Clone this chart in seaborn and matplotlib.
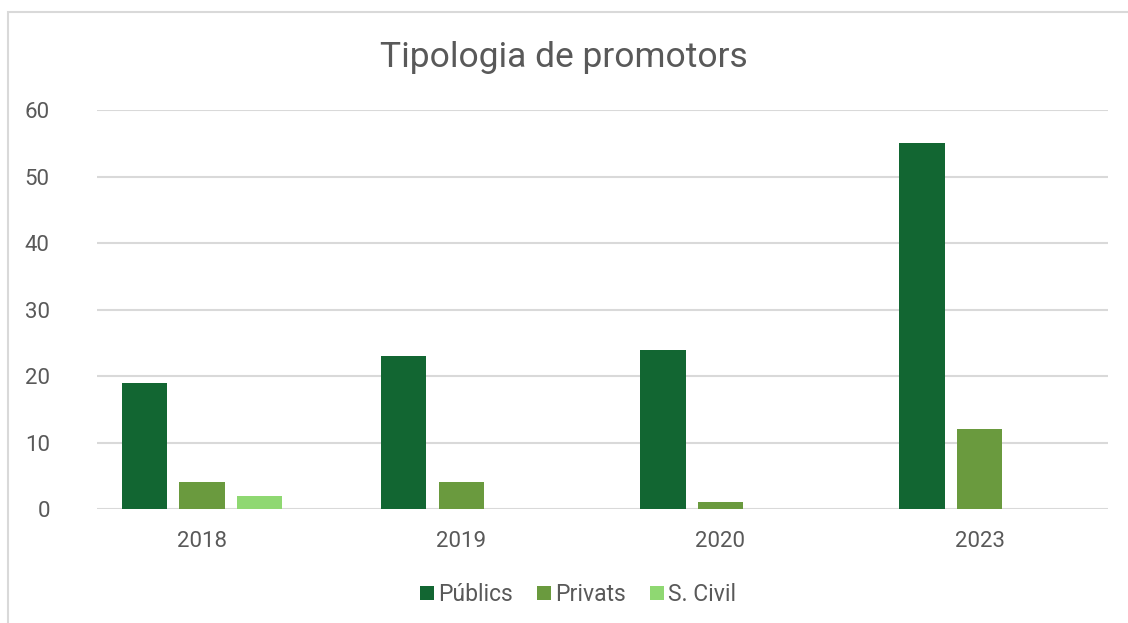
import pandas as pd
import matplotlib.pyplot as plt
import seaborn as sns
from matplotlib.patches import Rectangle

years = ["2018", "2019", "2020", "2023"]
publics = [19, 23, 24, 55]
privats = [4, 4, 1, 12]
s_civil = [2, 0, 0, 0]
series_names = ["Públics", "Privats", "S. Civil"]
colors = ["#126632", "#6A9A3E", "#8FD872"]

df = pd.DataFrame({
    "any": years * 3,
    "valor": publics + privats + s_civil,
    "tipus": [s for s in series_names for _ in years],
})

sns.set_style("white")
plt.rcParams["font.family"] = ["Roboto", "DejaVu Sans"]

fig = plt.figure(figsize=(11.28, 6.23), dpi=100)
ax = fig.add_axes([0.086, 0.183, 0.896, 0.64])

sns.barplot(data=df, x="any", y="valor", hue="tipus", palette=colors,
            saturation=1, width=0.665, gap=0.21, ax=ax, edgecolor="none", zorder=3)

ax.set_ylim(0, 60)
ax.set_xlim(-0.405, 3.494)
ax.set_yticks(range(0, 61, 10))
ax.yaxis.grid(True, color="#D9D9D9", linewidth=1.5, zorder=0)
ax.set_axisbelow(True)
for s in ax.spines.values():
    s.set_visible(False)
ax.tick_params(axis="both", length=0, labelsize=16, labelcolor="#595959")
ax.tick_params(axis="y", pad=34)
ax.tick_params(axis="x", pad=16)
ax.set_xlabel("")
ax.set_ylabel("")

ax.legend(loc="center", bbox_to_anchor=(0.476, -0.215), ncol=3, frameon=False,
          fontsize=16.5, labelcolor="#595959", handlelength=0.6, handleheight=0.6,
          handletextpad=0.2, columnspacing=1.05)

fig.text(0.5, 0.908, "Tipologia de promotors", ha="center", va="center",
         fontsize=25.5, color="#595959")

fig.patches.append(Rectangle((8 / 1128, -0.05), 1.1, 1 - 12 / 623 + 0.05,
                             transform=fig.transFigure, fill=False,
                             edgecolor="#D9D9D9", linewidth=1.5))

fig.savefig("out.png", dpi=100)
